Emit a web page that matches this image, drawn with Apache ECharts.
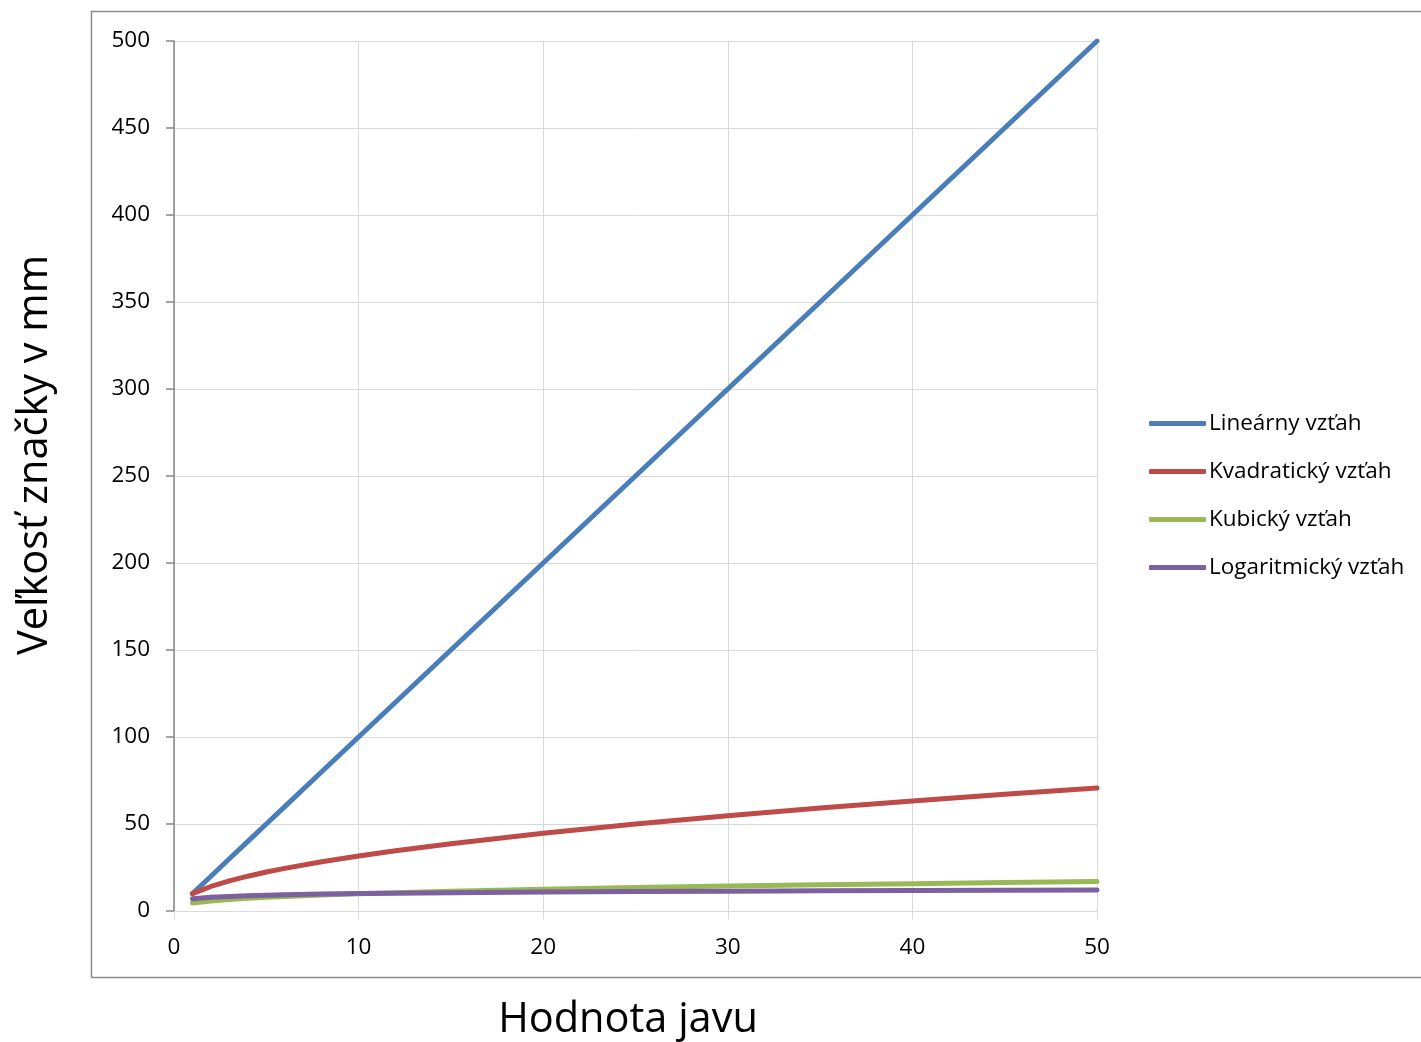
<!DOCTYPE html>
<html>
<head>
<meta charset="utf-8">
<title>Veľkosť značky</title>
<script src="https://cdn.jsdelivr.net/npm/echarts@6/dist/echarts.min.js"></script>
<style>
  html, body { margin: 0; padding: 0; background: #fff; }
  #chart { width: 1421px; height: 1042px; }
</style>
</head>
<body>
<div id="chart"></div>
<script>
// Hodnota javu (x) and the mark size in mm for each scaling rule
const xValues       = [1, 2, 3, 4, 5, 6, 8, 10, 12, 15, 20, 25, 30, 35, 40, 45, 50];
const linearMm      = [10, 20, 30, 40, 50, 60, 80, 100, 120, 150, 200, 250, 300, 350, 400, 450, 500];
const quadraticMm   = [10, 14.1, 17.3, 20, 22.4, 24.5, 28.3, 31.6, 34.6, 38.7, 44.7, 50, 54.8, 59.2, 63.2, 67.1, 70.7];
const cubicMm       = [4.6, 5.8, 6.6, 7.3, 7.9, 8.4, 9.2, 9.9, 10.5, 11.3, 12.5, 13.5, 14.3, 15.1, 15.7, 16.4, 16.9];
const logarithmicMm = [7, 7.9, 8.4, 8.8, 9.1, 9.3, 9.7, 10, 10.2, 10.5, 10.9, 11.2, 11.4, 11.6, 11.8, 11.9, 12.1];

const seriesNames = ['Lineárny vzťah', 'Kvadratický vzťah', 'Kubický vzťah', 'Logaritmický vzťah'];
const seriesColors = ['#4a7ebb', '#be4b48', '#98b954', '#7d60a0'];
const xTicks = [0, 10, 20, 30, 40, 50];
const yTicks = [0, 50, 100, 150, 200, 250, 300, 350, 400, 450, 500];

const FONT = '"Open Sans", "Noto Sans", sans-serif';

function pairs(ys) {
  return xValues.map((x, i) => [x, ys[i]]);
}

const allSeries = [linearMm, quadraticMm, cubicMm, logarithmicMm].map((ys, i) => ({
  name: seriesNames[i],
  type: 'line',
  data: pairs(ys),
  showSymbol: false,
  symbol: 'none',
  smooth: false,
  color: seriesColors[i],
  lineStyle: { width: 5, color: seriesColors[i], cap: 'round', join: 'round' },
  emphasis: { disabled: true }
}));

const chart = echarts.init(document.getElementById('chart'), null, { renderer: 'canvas' });

chart.setOption({
  animation: false,
  backgroundColor: '#ffffff',
  grid: { left: 174, right: 324, top: 41, bottom: 131, containLabel: false },
  xAxis: {
    type: 'value',
    min: xTicks[0],
    max: xTicks[xTicks.length - 1],
    interval: xTicks[1] - xTicks[0],
    axisLine: { show: true, onZero: false, lineStyle: { color: '#d9d9d9', width: 1 } },
    axisTick: { show: true, length: 8, lineStyle: { color: '#d9d9d9' } },
    axisLabel: { margin: 25, color: '#000', fontSize: 22.5, fontFamily: FONT },
    splitLine: { show: true, lineStyle: { color: '#d9d9d9', width: 1 } }
  },
  yAxis: {
    type: 'value',
    min: yTicks[0],
    max: yTicks[yTicks.length - 1],
    interval: yTicks[1] - yTicks[0],
    axisLine: { show: true, lineStyle: { color: '#868686', width: 1.5 } },
    axisTick: { show: true, length: 8, lineStyle: { color: '#868686', width: 1.5 } },
    axisLabel: { margin: 24, color: '#000', fontSize: 22.5, fontFamily: FONT },
    splitLine: { show: true, lineStyle: { color: '#d9d9d9', width: 1 } }
  },
  legend: {
    orient: 'vertical',
    left: 1149,
    top: 412,
    padding: 0,
    itemWidth: 57,
    itemHeight: 5,
    itemGap: 25,
    icon: 'roundRect',
    textStyle: { color: '#000', fontSize: 22.5, fontFamily: FONT, padding: [0, 0, 0, -2] },
    data: seriesNames
  },
  graphic: [
    {
      type: 'rect',
      shape: { x: 91.5, y: 11.5, width: 1340, height: 966 },
      style: { fill: null, stroke: '#8c8c8c', lineWidth: 1.5 },
      silent: true, z: -1
    },
    {
      type: 'text',
      x: 35, y: 455,
      rotation: Math.PI / 2,
      style: {
        text: 'Veľkosť značky v mm',
        fill: '#000',
        font: '41.5px ' + FONT,
        align: 'center',
        verticalAlign: 'middle'
      }
    },
    {
      type: 'text',
      x: 628, y: 1020,
      style: {
        text: 'Hodnota javu',
        fill: '#000',
        font: '41.5px ' + FONT,
        align: 'center',
        verticalAlign: 'middle'
      }
    }
  ],
  series: allSeries
});
</script>
</body>
</html>
